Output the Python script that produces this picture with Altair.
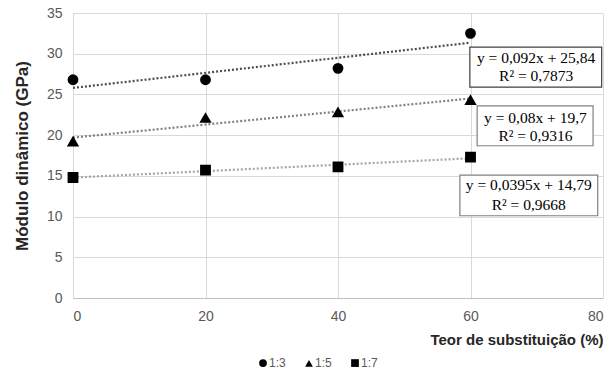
import altair as alt
import pandas as pd

# ---- data ----
teor = [0, 20, 40, 60]
series_names = ["1:3", "1:5", "1:7"]
y_13 = [26.8, 26.8, 28.2, 32.5]
y_15 = [19.2, 22.1, 22.8, 24.3]
y_17 = [14.8, 15.7, 16.1, 17.3]

eq_line1 = ["y = 0,092x + 25,84", "y = 0,08x + 19,7", "y = 0,0395x + 14,79"]
eq_line2 = ["R² = 0,7873", "R² = 0,9316", "R² = 0,9668"]
# label box positions (data units)
box_x = [59.9, 61.0, 58.4]
box_x2 = [79.8, 78.5, 79.2]
box_y = [30.8, 23.6, 15.1]
box_y2 = [25.9, 18.7, 10.1]
txt_x = [69.9, 69.8, 68.8]
txt_y1 = [29.5, 22.1, 13.9]
txt_y2 = [27.3, 19.9, 11.4]

# styles
line_colors = {"1:3": "#4d4d4d", "1:5": "#808080", "1:7": "#a6a6a6"}
box_stroke = ["#404040", "#808080", "#808080"]

rows = []
for name, ys in zip(series_names, [y_13, y_15, y_17]):
    for x, y in zip(teor, ys):
        rows.append({"teor": x, "mod": y, "serie": name, "cor": line_colors[name]})
df = pd.DataFrame(rows)

lab = pd.DataFrame({
    "x": box_x, "x2": box_x2, "y": box_y, "y2": box_y2,
    "tx": txt_x, "ty1": txt_y1, "ty2": txt_y2,
    "l1": eq_line1, "l2": eq_line2, "stroke": box_stroke,
})

xscale = alt.Scale(domain=[0, 80], nice=False)
yscale = alt.Scale(domain=[0, 35], nice=False)

xaxis = alt.Axis(values=[0, 20, 40, 60, 80], title="Teor de substituição (%)",
                 titleAnchor="end", titleFontWeight="bold", titleFontSize=15,
                 titleFont="Liberation Sans", titleColor="#262626", titlePadding=9,
                 labelFont="Liberation Sans", labelFontSize=14, labelColor="#595959",
                 labelPadding=11, ticks=False, domainColor="#bfbfbf",
                 gridColor="#d9d9d9")
yaxis = alt.Axis(values=[0, 5, 10, 15, 20, 25, 30, 35], title="Módulo dinâmico (GPa)",
                 titleFontWeight="bold", titleFontSize=17, titleFont="Liberation Sans",
                 titleColor="#262626", titlePadding=15,
                 labelFont="Liberation Sans", labelFontSize=14, labelColor="#595959",
                 labelPadding=11, ticks=False, domainColor="#d9d9d9",
                 gridColor="#d9d9d9")

base = alt.Chart(df)

lines = base.transform_regression(
    "teor", "mod", groupby=["serie", "cor"], extent=[0, 60]
).mark_line(strokeDash=[2, 2], strokeWidth=2.2).encode(
    x=alt.X("teor:Q", scale=xscale, axis=xaxis),
    y=alt.Y("mod:Q", scale=yscale, axis=yaxis),
    detail="serie:N",
    color=alt.Color("cor:N", scale=None),
)

points = base.mark_point(filled=True, size=78, opacity=1).encode(
    x=alt.X("teor:Q", scale=xscale),
    y=alt.Y("mod:Q", scale=yscale),
    shape=alt.Shape("serie:N", scale=alt.Scale(domain=series_names,
                    range=["circle", "triangle-up", "square"]),
                    legend=alt.Legend(title=None, orient="none", legendX=184, legendY=344,
                                      direction="horizontal", symbolFillColor="black",
                                      symbolStrokeColor="black", symbolSize=60,
                                      labelFont="Liberation Sans", labelFontSize=12,
                                      labelColor="#595959", columnPadding=16,
                                      labelOffset=0, padding=0)),
    fill=alt.value("black"),
    stroke=alt.value("black"),
)

boxes = alt.Chart(lab).mark_rect(fill="white", strokeWidth=1.2).encode(
    x=alt.X("x:Q", scale=xscale), x2="x2:Q",
    y=alt.Y("y:Q", scale=yscale), y2="y2:Q",
    stroke=alt.Stroke("stroke:N", scale=None),
)
t1 = alt.Chart(lab).mark_text(font="Liberation Serif", fontSize=15.5, color="black").encode(
    x=alt.X("tx:Q", scale=xscale), y=alt.Y("ty1:Q", scale=yscale), text="l1:N")
t2 = alt.Chart(lab).mark_text(font="Liberation Serif", fontSize=15.5, color="black").encode(
    x=alt.X("tx:Q", scale=xscale), y=alt.Y("ty2:Q", scale=yscale), text="l2:N")

chart = alt.layer(lines, points, boxes, t1, t2).properties(
    width=530, height=285,
    autosize=alt.AutoSizeParams(type="none"),
    padding={"left": 73, "top": 13, "right": 8, "bottom": 78},
    background="white",
).configure_view(stroke=None)

chart.save("out.html", embed_options={"renderer": "svg", "actions": False})
